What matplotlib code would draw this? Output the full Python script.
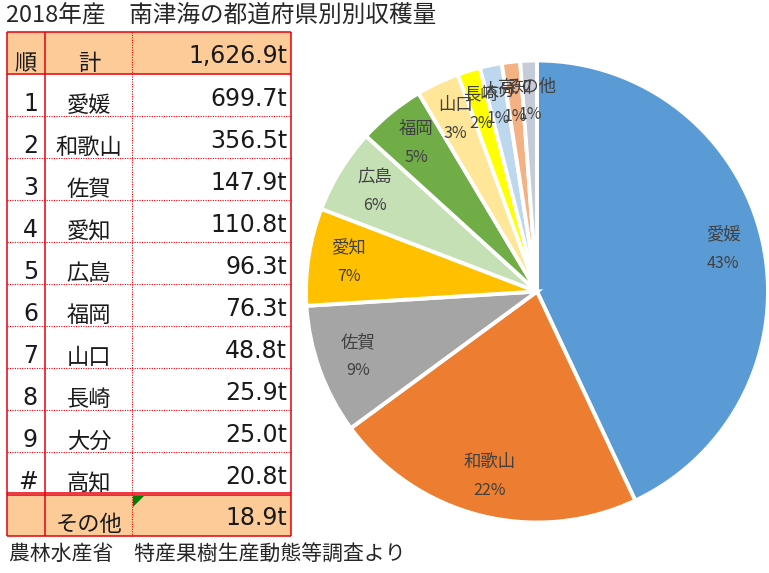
import matplotlib
matplotlib.use("Agg")
import matplotlib.pyplot as plt
import numpy as np

plt.rcParams['font.family'] = ['Noto Sans CJK JP', 'DejaVu Sans']

# ---- data ----
title = "2018年産　南津海の都道府県別別収穫量"
footer = "農林水産省　特産果樹生産動態等調査より"
ranks = ["1", "2", "3", "4", "5", "6", "7", "8", "9", "#"]
prefs = ["愛媛", "和歌山", "佐賀", "愛知", "広島", "福岡", "山口", "長崎", "大分", "高知", "その他"]
values = [699.7, 356.5, 147.9, 110.8, 96.3, 76.3, 48.8, 25.9, 25.0, 20.8, 18.9]
value_labels = ["699.7t", "356.5t", "147.9t", "110.8t", "96.3t", "76.3t",
                "48.8t", "25.9t", "25.0t", "20.8t", "18.9t"]
total_label = "1,626.9t"
header_labels = ["順", "計"]
pct_labels = ["43%", "22%", "9%", "7%", "6%", "5%", "3%", "2%", "1%", "1%", "1%"]
colors = ["#5B9BD5", "#ED7D31", "#A5A5A5", "#FFC000", "#C5E0B4", "#70AD47",
          "#FFE699", "#FFFF00", "#BDD7EE", "#F4B183", "#C5CCD8"]

W, H = 769, 573
fig = plt.figure(figsize=(W / 100, H / 100), dpi=100)

# ---- overlay axes in pixel coordinates (table + texts) ----
ax = fig.add_axes([0, 0, 1, 1])
ax.set_xlim(0, W)
ax.set_ylim(H, 0)
ax.axis('off')

red = "#E8000B"
x0, xc1, xc2, x1 = 7, 45, 132, 291
row_h = 42
top = 32
hdr_bot = top + row_h
data_bot = hdr_bot + 10 * row_h  # 494
oth_top = data_bot + 1
oth_bot = 536
peach = "#FCCB98"

# fills
ax.add_patch(plt.Rectangle((x0, top), x1 - x0, row_h, facecolor=peach, edgecolor='none'))
ax.add_patch(plt.Rectangle((x0, oth_top), x1 - x0, oth_bot - oth_top, facecolor=peach, edgecolor='none'))

lw = 1.1
# horizontal lines
for y in [top, hdr_bot, data_bot - 1, data_bot + 1, oth_bot]:
    ax.plot([x0, x1], [y, y], color=red, lw=lw, solid_capstyle='butt')
for i in range(1, 10):
    y = hdr_bot + i * row_h
    ax.plot([x0, x1], [y, y], color=red, lw=0.8, linestyle=(0, (1, 1.2)))
# vertical lines
for x in [x0, xc1, x1]:
    ax.plot([x, x], [top, oth_bot], color=red, lw=lw, solid_capstyle='butt')
ax.plot([xc2, xc2], [top, oth_bot], color=red, lw=0.8, linestyle=(0, (1, 1.2)))

# green triangle marker
ax.add_patch(plt.Polygon([[xc2 + 1, oth_top + 1], [xc2 + 12, oth_top + 1], [xc2 + 1, oth_top + 12]],
                         closed=True, facecolor="#008000", edgecolor='none'))

cjk = ['Noto Sans CJK JP', 'DejaVu Sans']
numf = ['DejaVu Sans']
name_x = (xc1 + xc2) / 2 + 0.5
num_x = 287
rank_x = 38
tc = '#1a1a1a'

# header
ax.text(26, hdr_bot - 4, header_labels[0], family=cjk, fontsize=16, ha='center', va='baseline', color=tc)
ax.text(name_x, hdr_bot - 4, header_labels[1], family=cjk, fontsize=16, ha='center', va='baseline', color=tc)
ax.text(num_x, hdr_bot - 10.5, total_label, family=numf, fontsize=17, ha='right', va='baseline', color=tc)

for i in range(10):
    rb = hdr_bot + (i + 1) * row_h
    ax.text(rank_x, rb - 5, ranks[i], family=numf, fontsize=17, ha='right', va='baseline', color=tc)
    ax.text(name_x, rb - 4, prefs[i], family=cjk, fontsize=16, ha='center', va='baseline', color=tc)
    ax.text(num_x, rb - 10, value_labels[i], family=numf, fontsize=17, ha='right', va='baseline', color=tc)

ax.text(name_x, oth_bot - 5, prefs[10], family=cjk, fontsize=16, ha='center', va='baseline', color=tc)
ax.text(num_x, oth_bot - 11, value_labels[10], family=numf, fontsize=17, ha='right', va='baseline', color=tc)

# title and footer
ax.text(6, 15, title, family=cjk, fontsize=17, ha='left', va='center', color='#262626')
ax.text(9, 555, footer, family=cjk, fontsize=15, ha='left', va='center', color='#262626')

# ---- pie ----
cx, cy, R = 537, 291.5, 231
pax = fig.add_axes([(cx - R) / W, (H - cy - R) / H, 2 * R / W, 2 * R / H])
wedges, _ = pax.pie(values, colors=colors, startangle=90, counterclock=False,
                    wedgeprops=dict(edgecolor='white', linewidth=2.8))
pax.set_xlim(-1, 1)
pax.set_ylim(-1, 1)
pax.set_aspect('equal')
pax.axis('off')

rlab = 0.825
for w, name, pct in zip(wedges, prefs, pct_labels):
    ang = np.deg2rad((w.theta1 + w.theta2) / 2)
    px, py = rlab * np.cos(ang), rlab * np.sin(ang)
    pax.annotate(name, (px, py), xytext=(0, 10.5), textcoords='offset points',
                 ha='center', va='center', family=cjk, fontsize=12.5, color='#404040')
    pax.annotate(pct, (px, py), xytext=(0, -10), textcoords='offset points',
                 ha='center', va='center', family=cjk, fontsize=11.5, color='#404040')

fig.savefig("out.png", dpi=100)
